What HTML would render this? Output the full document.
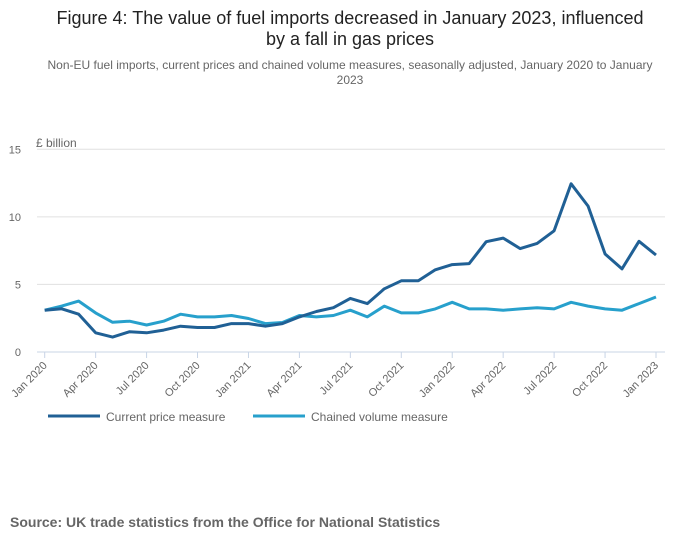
<!DOCTYPE html>
<html><head><meta charset="utf-8">
<style>
body{margin:0;background:#fff;font-family:"Liberation Sans",sans-serif;}
#wrap{position:relative;width:700px;height:549px;overflow:hidden;}
</style></head>
<body>
<div id="wrap">
<svg id="chart" width="700" height="549" xmlns="http://www.w3.org/2000/svg">
<text x="350" y="24" text-anchor="middle" font-size="18" fill="#222">Figure 4: The value of fuel imports decreased in January 2023, influenced</text>
<text x="350" y="45" text-anchor="middle" font-size="18" fill="#222">by a fall in gas prices</text>
<text x="350" y="69" text-anchor="middle" font-size="12" fill="#666">Non-EU fuel imports, current prices and chained volume measures, seasonally adjusted, January 2020 to January</text>
<text x="350" y="84" text-anchor="middle" font-size="12" fill="#666">2023</text>
<text x="36" y="147" font-size="12" fill="#666">£ billion</text>
<g id="grid"></g><g id="xaxis"></g><g id="lines"></g>
<g>
<line x1="48" y1="416" x2="100" y2="416" stroke="#206095" stroke-width="3"/>
<text x="106" y="421" font-size="12" fill="#666">Current price measure</text>
<line x1="253" y1="416" x2="305" y2="416" stroke="#27a0cc" stroke-width="3"/>
<text x="311" y="421" font-size="12" fill="#666">Chained volume measure</text>
</g>
<text x="10" y="527" font-size="14" font-weight="bold" fill="#666">Source: UK trade statistics from the Office for National Statistics</text>
</svg>
</div>
<script>
const currentPrice=[3.09,3.2,2.8,1.42,1.1,1.5,1.42,1.62,1.91,1.81,1.81,2.1,2.1,1.91,2.1,2.6,3.0,3.28,3.97,3.58,4.68,5.27,5.27,6.08,6.47,6.54,8.16,8.43,7.65,8.04,8.97,12.45,10.8,7.25,6.15,8.19,7.18];
const chainedVolume=[3.09,3.4,3.77,2.89,2.2,2.28,2.0,2.28,2.8,2.6,2.6,2.7,2.48,2.1,2.18,2.7,2.6,2.7,3.09,2.6,3.4,2.89,2.89,3.19,3.68,3.19,3.19,3.09,3.19,3.28,3.19,3.68,3.4,3.19,3.09,3.58,4.07];
const yTicks=[0,5,10,15];
const xTickLabels=["Jan 2020","Apr 2020","Jul 2020","Oct 2020","Jan 2021","Apr 2021","Jul 2021","Oct 2021","Jan 2022","Apr 2022","Jul 2022","Oct 2022","Jan 2023"];
const NS="http://www.w3.org/2000/svg";
const x0=44.7,x1=656,y0=352,yTop=149.3;
const n=currentPrice.length;
function xs(i){return x0+(x1-x0)*i/(n-1);}
function ys(v){return y0-(y0-yTop)*v/15;}
const grid=document.getElementById('grid');
yTicks.forEach(t=>{
  if(t>0){const l=document.createElementNS(NS,'line');
  l.setAttribute('x1',37);l.setAttribute('x2',665);l.setAttribute('y1',ys(t));l.setAttribute('y2',ys(t));
  l.setAttribute('stroke','#e0e0e0');
  
  
  grid.appendChild(l);}
  const tx=document.createElementNS(NS,'text');
  tx.setAttribute('x',21);tx.setAttribute('y',ys(t)+4);tx.setAttribute('text-anchor','end');
  tx.setAttribute('font-size','11');tx.setAttribute('fill','#666');tx.textContent=t;
  
  
  grid.appendChild(tx);
});
const xa=document.getElementById('xaxis');
const base=document.createElementNS(NS,'line');
base.setAttribute('x1',37);base.setAttribute('x2',665);base.setAttribute('y1',y0);base.setAttribute('y2',y0);
base.setAttribute('stroke','#c8d4e6');


xa.appendChild(base);
xTickLabels.forEach((lab,k)=>{
  const x=xs(k*3);
  const t=document.createElementNS(NS,'line');
  t.setAttribute('x1',x);t.setAttribute('x2',x);t.setAttribute('y1',y0);t.setAttribute('y2',y0+6);
  t.setAttribute('stroke','#c8d4e6');
  
  
  xa.appendChild(t);
  const tx=document.createElementNS(NS,'text');
  tx.setAttribute('x',x+3);tx.setAttribute('y',y0+14);tx.setAttribute('text-anchor','end');
  tx.setAttribute('font-size','11');tx.setAttribute('fill','#666');
  tx.setAttribute('transform','rotate(-45 '+(x+3)+' '+(y0+14)+')');
  tx.textContent=lab;
  
  
  xa.appendChild(tx);
});
const lines=document.getElementById('lines');
function drawLine(data,color,name){
  const p=document.createElementNS(NS,'polyline');
  p.setAttribute('points',data.map((v,i)=>xs(i).toFixed(1)+','+ys(v).toFixed(1)).join(' '));
  p.setAttribute('fill','none');p.setAttribute('stroke',color);p.setAttribute('stroke-width','3');
  p.setAttribute('stroke-linejoin','round');
  
  
  lines.appendChild(p);
}
drawLine(chainedVolume,'#27a0cc','chained-volume-line');
drawLine(currentPrice,'#206095','current-price-line');
</script>
</body></html>
